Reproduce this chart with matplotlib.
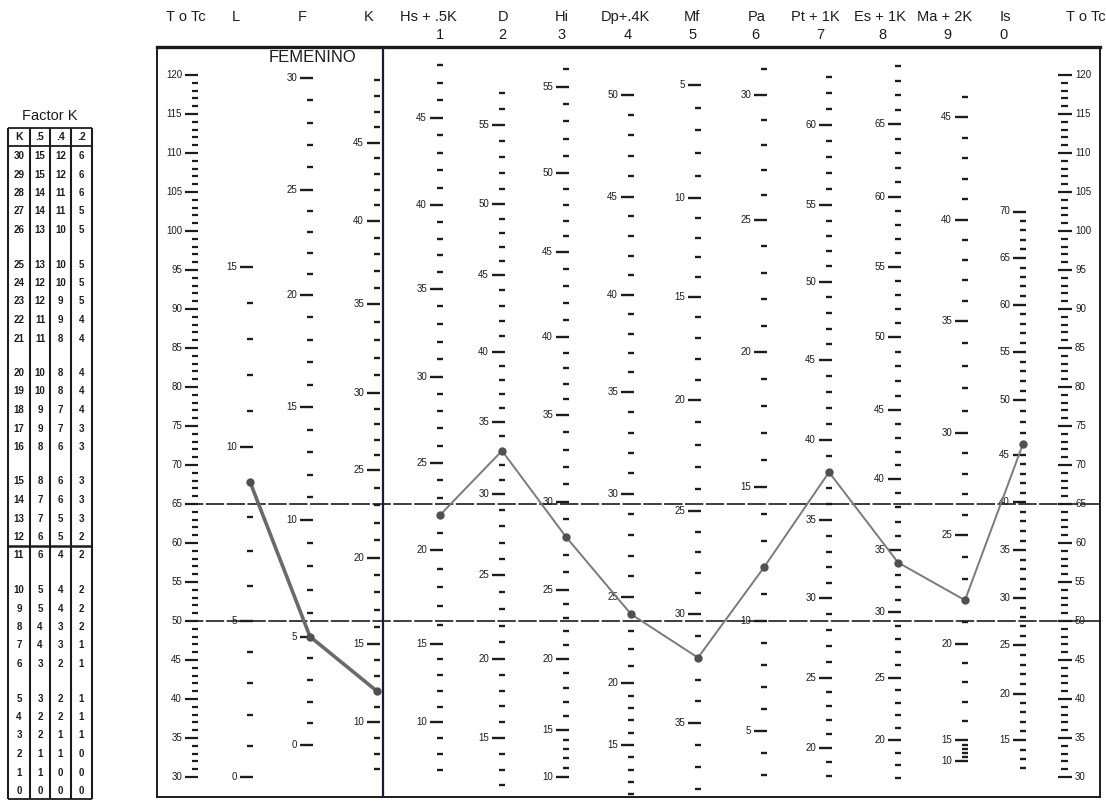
import numpy as np
import matplotlib
matplotlib.use("Agg")
import matplotlib.pyplot as plt

plt.rcParams['font.family'] = ['Liberation Sans', 'DejaVu Sans']

# ------------------------------------------------------------------ data
header_top = ["T o Tc", "L", "F", "K", "Hs + .5K", "D", "Hi", "Dp+.4K", "Mf",
              "Pa", "Pt + 1K", "Es + 1K", "Ma + 2K", "Is", "T o Tc"]
header_num = ["", "", "", "", "1", "2", "3", "4", "5", "6", "7", "8", "9", "0", ""]

scale_names = ["L", "F", "K", "Hs", "D", "Hi", "Dp", "Mf", "Pa", "Pt", "Es", "Ma", "Is"]

# labelled raw scores of each scale and the T score where each label sits
L_raw = [0, 5, 10, 15];                       L_T = [30, 50, 72.3, 95.4]
F_raw = [0, 5, 10, 15, 20, 25, 30];           F_T = [34.1, 48, 63, 77.4, 91.8, 105.3, 119.6]
K_raw = [10, 15, 20, 25, 30, 35, 40, 45];     K_T = [37, 47, 58.1, 69.3, 79.2, 90.6, 101.3, 111.3]
Hs_raw = [10, 15, 20, 25, 30, 35, 40, 45];    Hs_T = [37, 47.1, 59.1, 70.3, 81.3, 92.6, 103.3, 114.5]
D_raw = [15, 20, 25, 30, 35, 40, 45, 50, 55]; D_T = [35, 45.1, 55.9, 66.3, 75.5, 84.5, 94.4, 103.4, 113.6]
Hi_raw = [10, 15, 20, 25, 30, 35, 40, 45, 50, 55]
Hi_T = [30, 36, 45.1, 54, 65.3, 76.4, 86.4, 97.3, 107.4, 118.5]
Dp_raw = [15, 20, 25, 30, 35, 40, 45, 50];    Dp_T = [34.1, 42, 53.1, 66.3, 79.4, 91.8, 104.4, 117.5]
Mf_raw = [5, 10, 15, 20, 25, 30, 35];         Mf_T = [118.7, 104.2, 91.6, 78.3, 64.1, 50.9, 36.9]
Pa_raw = [5, 10, 15, 20, 25, 30];             Pa_T = [35.9, 50, 67.2, 84.5, 101.4, 117.5]
Pt_raw = [20, 25, 30, 35, 40, 45, 50, 55, 60]
Pt_T = [33.7, 42.7, 52.9, 62.9, 73.2, 83.5, 93.5, 103.3, 113.6]
Es_raw = [20, 25, 30, 35, 40, 45, 50, 55, 60, 65]
Es_T = [34.7, 42.7, 51.1, 59.1, 68.2, 77, 86.4, 95.4, 104.4, 113.7]
Ma_raw = [10, 15, 20, 25, 30, 35, 40, 45];    Ma_T = [32, 34.7, 47.1, 61, 74.1, 88.5, 101.4, 114.6]
Is_raw = [15, 20, 25, 30, 35, 40, 45, 50, 55, 60, 65, 70]
Is_T = [34.7, 40.7, 46.9, 52.9, 59.1, 65.2, 71.3, 78.3, 84.5, 90.5, 96.5, 102.5]

# lowest and highest raw score marked on each scale
raw_low = [0, 0, 7, 7, 12, 10, 11, 5, 3, 18, 17, 10, 12]
raw_high = [15, 30, 49, 48, 57, 56, 50, 38, 31, 63, 69, 46, 70]

# the plotted profile (raw scores)
profile_raw = [9, 5, 12, 22, 33, 28, 24, 32, 12, 38, 34, 22, 46]

# T score axis
T_ticks = list(range(30, 121))
T_labels = list(range(30, 121, 5))
ref_lines_T = [65, 50]

# Factor K table
factorK_K = list(range(30, -1, -1))
factorK_05 = [15, 15, 14, 14, 13, 13, 12, 12, 11, 11, 10, 10, 9, 9, 8, 8, 7, 7, 6, 6,
              5, 5, 4, 4, 3, 3, 2, 2, 1, 1, 0]
factorK_04 = [12, 12, 11, 11, 10, 10, 10, 9, 9, 8, 8, 8, 7, 7, 6, 6, 6, 5, 5, 4,
              4, 4, 3, 3, 2, 2, 2, 1, 1, 0, 0]
factorK_02 = [6, 6, 6, 5, 5, 5, 5, 5, 4, 4, 4, 4, 4, 3, 3, 3, 3, 3, 2, 2,
              2, 2, 2, 1, 1, 1, 1, 1, 0, 0, 0]
factorK_head = ["K", ".5", ".4", ".2"]

scale_raw = [L_raw, F_raw, K_raw, Hs_raw, D_raw, Hi_raw, Dp_raw, Mf_raw, Pa_raw,
             Pt_raw, Es_raw, Ma_raw, Is_raw]
scale_T = [L_T, F_T, K_T, Hs_T, D_T, Hi_T, Dp_T, Mf_T, Pa_T, Pt_T, Es_T, Ma_T, Is_T]

# ------------------------------------------------------------------ layout
W, H = 1106, 801
col_x = [193, 250, 310, 377, 440, 502, 566, 631, 698, 764, 829, 898, 965, 1023, 1065]
head_x = [186, 236, 302, 369, 428, 503, 562, 625, 692, 757, 815, 880, 945, 1005, 1086]
num_x = [0, 0, 0, 0, 440, 502, 562, 628, 693, 755, 820, 882, 947, 1003, 0]
px_per_T = 7.8
y30 = 777            # pixel row of T = 30
box_l, box_r, box_t, box_b = 157, 1100, 47, 797
ink = "#1c1c1c"


def T_of_px(y):
    return 30 + (y30 - y) / px_per_T


def raw_to_T(r, xs, ts):
    xs = np.asarray(xs, float)
    ts = np.asarray(ts, float)
    if r < xs[0]:
        return ts[0] + (r - xs[0]) * (ts[1] - ts[0]) / (xs[1] - xs[0])
    if r > xs[-1]:
        return ts[-1] + (r - xs[-1]) * (ts[-1] - ts[-2]) / (xs[-1] - xs[-2])
    return float(np.interp(r, xs, ts))


fig = plt.figure(figsize=(W / 100, H / 100), dpi=100)
ax = fig.add_axes([box_l / W, (H - box_b) / H, (box_r - box_l) / W, (box_b - box_t) / H])
ax.set_xlim(box_l, box_r)
ax.set_ylim(T_of_px(box_b), T_of_px(box_t))
ax.set_xticks([])
ax.set_yticks([])
for s in ax.spines.values():
    s.set_linewidth(1.4)
    s.set_color(ink)
ax.spines['top'].set_linewidth(2.4)

# separator after validity scales
ax.axvline(383, color="#1a1a3a", lw=1.6)

# FEMENINO
ax.text(312, T_of_px(58), "FEMENINO", ha="center", va="center", fontsize=12, color=ink)

# T score axes (left and right)
minor = [t for t in T_ticks if t % 5]
major = [t for t in T_ticks if t % 5 == 0]
xl = col_x[0]
ax.hlines(minor, xl - 1, xl + 5, color=ink, lw=1.6)
ax.hlines(major, xl - 8, xl + 5, color=ink, lw=1.6)
for t in T_labels:
    ax.text(xl - 11, t, str(t), ha="right", va="center", fontsize=7, color=ink)
xr = col_x[-1]
ax.hlines(minor, xr - 4, xr + 3, color=ink, lw=1.6)
ax.hlines(major, xr - 7, xr + 7, color=ink, lw=1.6)
for t in T_labels:
    ax.text(xr + 10, t, str(t), ha="left", va="center", fontsize=7, color=ink)

# raw score scales
for i in range(len(scale_names)):
    x = col_x[i + 1]
    xs, ts = scale_raw[i], scale_T[i]
    mins, majs = [], []
    for r in range(raw_low[i], raw_high[i] + 1):
        t = raw_to_T(r, xs, ts)
        if r in xs:
            majs.append(t)
            ax.text(x - 13, t, str(r), ha="right", va="center", fontsize=7, color=ink)
        else:
            mins.append(t)
    ax.hlines(mins, x - 3, x + 3, color=ink, lw=1.7)
    ax.hlines(majs, x - 10, x + 3, color=ink, lw=1.7)

# reference lines
ax.hlines(ref_lines_T, 185, box_r, color=ink, lw=1.2, linestyles=(0, (11, 1.5)))

# profile
prof_T = [raw_to_T(r, scale_raw[i], scale_T[i]) for i, r in enumerate(profile_raw)]
px = col_x[1:14]
ax.plot(px[:3], prof_T[:3], color="#6a6a6a", lw=2.6, zorder=5)
ax.plot(px[3:], prof_T[3:], color="#7a7a7a", lw=1.4, zorder=5)
ax.plot(px, prof_T, "o", color="#505050", ms=5, ls="none", zorder=6)

# headers
for hx, lab in zip(head_x, header_top):
    ax.text(hx, T_of_px(17), lab, ha="center", va="center", fontsize=10.5,
            color=ink, clip_on=False)
for hx, lab in zip(num_x, header_num):
    if lab:
        ax.text(hx, T_of_px(35), lab, ha="center", va="center", fontsize=10.5,
                color=ink, clip_on=False)

# ------------------------------------------------------------------ Factor K table
tax = fig.add_axes([0, 0, 170 / W, 1])
tax.set_xlim(0, 170)
tax.set_ylim(H, 0)
tax.axis("off")
vlines_x = [8, 30, 50, 71, 92]
cell_cx = [19, 40, 60.5, 81.5]
pitch, gap, y_first = 18.5, 16, 156
row_y = [y_first + i * pitch + min(i // 5, 5) * gap for i in range(len(factorK_K))]
top_y, head_y, headline_y, bot_y = 128, 137, 146, 799
tax.text(50, 116, "Factor K", ha="center", va="center", fontsize=10.5, color=ink)
tax.vlines(vlines_x, top_y, bot_y, color=ink, lw=1.5)
tax.hlines([top_y, headline_y, bot_y], vlines_x[0], vlines_x[-1], color=ink, lw=1.3)
for cx, lab in zip(cell_cx, factorK_head):
    tax.text(cx, head_y, lab, ha="center", va="center", fontsize=7.5, color=ink,
             fontweight="bold")
cols = [factorK_K, factorK_05, factorK_04, factorK_02]
for j, col in enumerate(cols):
    for yy, v in zip(row_y, col):
        tax.text(cell_cx[j], yy, str(v), ha="center", va="center", fontsize=7,
                 color=ink, fontweight="bold")
i12 = factorK_K.index(12)
tax.hlines([(row_y[i12] + row_y[i12 + 1]) / 2], vlines_x[0], vlines_x[-1], color=ink, lw=1.8)

fig.savefig("out.png", dpi=100)
